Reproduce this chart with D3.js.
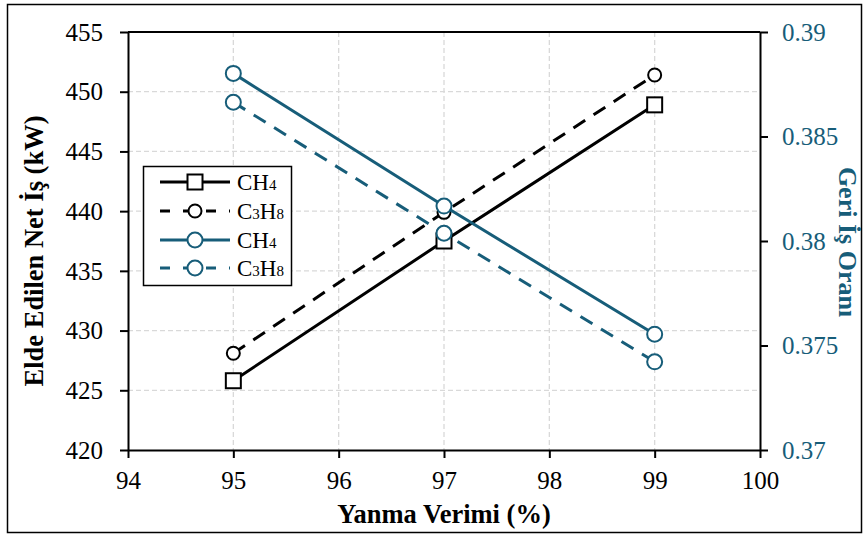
<!DOCTYPE html>
<html>
<head>
<meta charset="utf-8">
<script src="https://cdn.jsdelivr.net/npm/d3@7"></script>
<style>
  html, body { margin: 0; padding: 0; background: #fff; }
  svg, svg text { font-family: "Liberation Serif", "Times New Roman", Times, "DejaVu Serif", serif !important; }
</style>
</head>
<body>
<svg id="chart" width="868" height="536"></svg>
<script>
// Combustion efficiency (%) on the x axis
const efficiency = [95, 97, 99];

// Net work output (kW), left axis
const netWorkCH4 = [425.8, 437.5, 448.9];
const netWorkC3H8 = [428.1, 439.9, 451.4];

// Back work ratio, right axis
const backWorkCH4 = [0.38802, 0.38167, 0.37554];
const backWorkC3H8 = [0.38664, 0.38037, 0.37422];

const xTicks = [94, 95, 96, 97, 98, 99, 100];
const yLeftTicks = [420, 425, 430, 435, 440, 445, 450, 455];
const yRightTicks = [0.37, 0.375, 0.38, 0.385, 0.39];
const yRightLabels = ["0.37", "0.375", "0.38", "0.385", "0.39"];

const BLUE = "#175d79";
const SERIF = '"Liberation Serif", "Times New Roman", Times, serif';
const svg = d3.select("#chart");

// outer frame
svg.append("rect").attr("x", 7.5).attr("y", 4.5).attr("width", 854).attr("height", 528)
  .attr("fill", "none").attr("stroke", "#000").attr("stroke-width", 1.5);

const L = 128, R = 760, T = 32, B = 450;
const x = d3.scaleLinear().domain([94, 100]).range([L, R]);
const yL = d3.scaleLinear().domain([420, 455]).range([B, T]);
const yR = d3.scaleLinear().domain([0.37, 0.39]).range([B, T]);

// grid
const grid = svg.append("g").attr("stroke", "#d9d9d9").attr("stroke-width", 1.3).attr("stroke-dasharray", "5,3");
grid.selectAll("line.v").data(xTicks.slice(1, -1)).join("line")
  .attr("x1", d => x(d)).attr("x2", d => x(d)).attr("y1", T).attr("y2", B);
grid.selectAll("line.h").data(yLeftTicks.slice(1, -1)).join("line")
  .attr("x1", L).attr("x2", R).attr("y1", d => yL(d)).attr("y2", d => yL(d));

// axes
const fmtX = d3.format("d");
const gx = svg.append("g").attr("transform", `translate(0,${B})`)
  .call(d3.axisBottom(x).tickValues(xTicks).tickFormat(fmtX).tickSize(8).tickSizeOuter(0));
const gyl = svg.append("g").attr("transform", `translate(${L},0)`)
  .call(d3.axisLeft(yL).tickValues(yLeftTicks).tickFormat(fmtX).tickSize(8).tickSizeOuter(0));
const gyr = svg.append("g").attr("transform", `translate(${R},0)`)
  .call(d3.axisRight(yR).tickValues(yRightTicks).tickFormat((d, i) => yRightLabels[i]).tickSize(8).tickSizeOuter(0));

[gx, gyl, gyr].forEach(g => {
  g.attr("font-family", SERIF).attr("font-size", 25);
  g.select(".domain").attr("stroke", "#000").attr("stroke-width", 2);
  g.selectAll(".tick line").attr("stroke", "#000").attr("stroke-width", 2);
  g.selectAll("text").attr("font-family", SERIF).style("font-family", SERIF)
    .attr("font-size", 25).attr("fill", "#000");
});
gx.selectAll("text").attr("dy", null).attr("y", 39);
gyl.selectAll("text").attr("x", -25).attr("dy", "0.33em");
gyr.selectAll("text").attr("x", 22).attr("dy", "0.33em").attr("fill", BLUE);

// top frame line
svg.append("line").attr("x1", L).attr("x2", R).attr("y1", T).attr("y2", T)
  .attr("stroke", "#000").attr("stroke-width", 2);

// axis titles
svg.append("text").attr("x", 444).attr("y", 523).attr("text-anchor", "middle")
  .attr("font-size", 26.5).attr("font-weight", "bold").text("Yanma Verimi (%)");
svg.append("text").attr("transform", `translate(43,251) rotate(-90)`).attr("text-anchor", "middle")
  .attr("font-size", 26.5).attr("font-weight", "bold").text("Elde Edilen Net İş (kW)");
svg.append("text").attr("transform", `translate(839,242) rotate(90)`).attr("text-anchor", "middle")
  .attr("font-size", 26).attr("font-weight", "bold").attr("fill", BLUE).text("Geri İş Oranı");

// series
const series = [
  { vals: netWorkCH4, y: yL, color: "#000", dash: null, marker: "square", r: 7.5 },
  { vals: netWorkC3H8, y: yL, color: "#000", dash: "14,10", marker: "circle", r: 6.5 },
  { vals: backWorkCH4, y: yR, color: BLUE, dash: null, marker: "circle", r: 7.5 },
  { vals: backWorkC3H8, y: yR, color: BLUE, dash: "14,10", marker: "circle", r: 7.5 }
];

series.forEach(s => {
  const pts = efficiency.map((e, i) => [x(e), s.y(s.vals[i])]);
  svg.append("path").attr("d", d3.line()(pts)).attr("fill", "none")
    .attr("stroke", s.color).attr("stroke-width", 3).attr("stroke-dasharray", s.dash);
  drawMarkers(svg, pts, s);
});

function drawMarkers(g, pts, s) {
  if (s.marker === "square") {
    g.selectAll(null).data(pts).join("rect")
      .attr("x", d => d[0] - s.r).attr("y", d => d[1] - s.r)
      .attr("width", 2 * s.r).attr("height", 2 * s.r)
      .attr("fill", "#fff").attr("stroke", s.color).attr("stroke-width", 2);
  } else {
    g.selectAll(null).data(pts).join("circle")
      .attr("cx", d => d[0]).attr("cy", d => d[1]).attr("r", s.r)
      .attr("fill", "#fff").attr("stroke", s.color).attr("stroke-width", 2);
  }
}

// legend
const leg = svg.append("g");
leg.append("rect").attr("x", 143.5).attr("y", 166.5).attr("width", 148).attr("height", 119)
  .attr("fill", "#fff").attr("stroke", "#000").attr("stroke-width", 1.5);
const names = [["CH", "4"], ["C", "3", "H", "8"], ["CH", "4"], ["C", "3", "H", "8"]];
const rowY = [182, 211, 240, 268];
series.forEach((s, i) => {
  const yy = rowY[i];
  leg.append("line").attr("x1", 160).attr("x2", 230).attr("y1", yy).attr("y2", yy)
    .attr("stroke", s.color).attr("stroke-width", 3)
    .attr("stroke-dasharray", s.dash ? "10,13" : null);
  drawMarkers(leg, [[195, yy]], s);
  const t = leg.append("text").attr("x", 237).attr("y", yy + 8).attr("font-size", 23).attr("fill", "#000");
  names[i].forEach((part, k) => {
    t.append("tspan").attr("font-size", k % 2 === 1 ? 15 : 23).text(part);
  });
});
</script>
</body>
</html>
